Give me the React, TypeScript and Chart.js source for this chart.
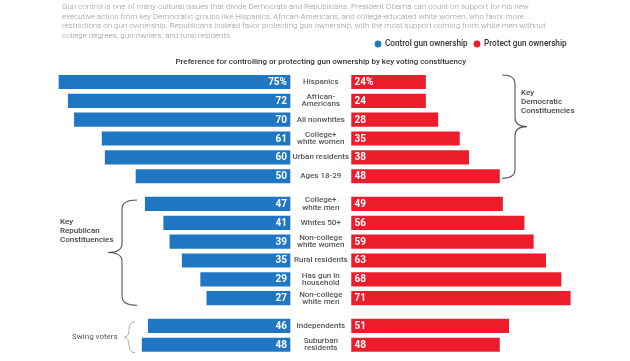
import React, { useEffect, useRef } from "react";
import { Chart, registerables } from "chart.js";
Chart.register(...registerables);

const categories: string[][] = [
  ["Hispanics"], ["African-", "Americans"], ["All nonwhites"], ["College+", "white women"],
  ["Urban residents"], ["Ages 18-29"],
  ["College+", "white men"], ["Whites 50+"], ["Non-college", "white women"], ["Rural residents"],
  ["Has gun in", "household"], ["Non-college", "white men"],
  ["Independents"], ["Suburban", "residents"],
];
const groups = [0, 0, 0, 0, 0, 0, 1, 1, 1, 1, 1, 1, 2, 2];
const controlValues = [75, 72, 70, 61, 60, 50, 47, 41, 39, 35, 29, 27, 46, 48];
const protectValues = [24, 24, 28, 35, 38, 48, 49, 56, 59, 63, 68, 71, 51, 48];
const groupLabels: string[][] = [
  ["Key", "Democratic", "Constituencies"],
  ["Key", "Republican", "Constituencies"],
  ["Swing voters"],
];
const seriesNames = ["Control gun ownership", "Protect gun ownership"];
const introLines = [
  "Gun control is one of many cultural issues that divide Democrats and Republicans. President Obama can count on support for his new",
  "executive action from key Democratic groups like Hispanics, African-Americans, and college-educated white women, who favor more",
  "restrictions on gun ownership. Republicans instead favor protecting gun ownership, with the most support coming from white men without",
  "college degrees, gun-owners, and rural residents.",
];
const chartTitle = "Preference for controlling or protecting gun ownership by key voting constituency";

const BLUE = "#1f77c3";
const RED = "#ec1c2a";
const CENTER_GAP = 20;
const GROUP_GAP = 0.47;
const FONT = "Roboto, 'Noto Sans', sans-serif";

export default function App() {
  const ref = useRef<HTMLCanvasElement | null>(null);
  useEffect(() => {
    const canvas = ref.current!;
    const pos = categories.map((_, i) => i + groups[i] * GROUP_GAP);

    const decor = {
      id: "decor",
      afterDatasetsDraw(chart: any) {
        const ctx: CanvasRenderingContext2D = chart.ctx;
        const xs = chart.scales.x;
        const ys = chart.scales.y;
        ctx.save();
        // intro text: size chosen so the widest line spans the intro block width
        ctx.textAlign = "left";
        ctx.textBaseline = "middle";
        ctx.font = `300 10px ${FONT}`;
        const widest = Math.max(...introLines.map((l) => ctx.measureText(l).width));
        const introSize = Math.min(9.5, (10 * 484) / widest);
        ctx.font = `300 ${introSize}px ${FONT}`;
        ctx.fillStyle = "#959595";
        introLines.forEach((l, i) => ctx.fillText(l, 62, 6.8 + i * 9.75));
        // legend
        const legendX = [378, 477];
        [BLUE, RED].forEach((c, i) => {
          ctx.fillStyle = c;
          ctx.beginPath();
          ctx.arc(legendX[i], 44, 3.4, 0, Math.PI * 2);
          ctx.fill();
          ctx.fillStyle = "#333";
          ctx.font = `500 8.2px ${FONT}`;
          ctx.textAlign = "left";
          ctx.fillText(seriesNames[i], legendX[i] + 7, 44);
        });

        const x0 = xs.getPixelForValue(0);
        const xg = xs.getPixelForValue(CENTER_GAP);
        const xc = (x0 + xg) / 2;
        // title
        ctx.fillStyle = "#333";
        ctx.font = `500 8px ${FONT}`;
        ctx.textAlign = "center";
        ctx.fillText(chartTitle, xc, 61.5);

        categories.forEach((lines, i) => {
          const y = ys.getPixelForValue(pos[i]);
          ctx.font = `bold 10px ${FONT}`;
          ctx.fillStyle = "#fff";
          ctx.textAlign = "right";
          ctx.fillText(String(controlValues[i]) + (i === 0 ? "%" : ""), x0 - 3, y + 0.5);
          ctx.textAlign = "left";
          ctx.fillText(String(protectValues[i]) + (i === 0 ? "%" : ""), xg + 3, y + 0.5);
          ctx.font = `500 8px ${FONT}`;
          ctx.fillStyle = "#555";
          ctx.textAlign = "center";
          const lh = 7.2;
          lines.forEach((t, k) => {
            ctx.fillText(t, xc, y + (k - (lines.length - 1) / 2) * lh);
          });
        });

        // brackets
        const brace = (top: number, bottom: number, xe: number, xsp: number, xt: number, color: string, lw: number) => {
          const mid = (top + bottom) / 2;
          const r = Math.min(9, (bottom - top) / 4);
          ctx.strokeStyle = color;
          ctx.lineWidth = lw;
          ctx.beginPath();
          ctx.moveTo(xe, top);
          ctx.quadraticCurveTo(xsp, top, xsp, top + r);
          ctx.lineTo(xsp, mid - r);
          ctx.quadraticCurveTo(xsp, mid, xt, mid);
          ctx.quadraticCurveTo(xsp, mid, xsp, mid + r);
          ctx.lineTo(xsp, bottom - r);
          ctx.quadraticCurveTo(xsp, bottom, xe, bottom);
          ctx.stroke();
        };
        const firstY = (g: number) => ys.getPixelForValue(pos[groups.indexOf(g)]);
        const lastY = (g: number) => ys.getPixelForValue(pos[groups.lastIndexOf(g)]);
        brace(firstY(0) - 7, lastY(0) + 2, 502, 515, 527, "#555", 1.1);
        brace(firstY(1) - 4, lastY(1) + 7, 137, 122, 108, "#555", 1.1);
        brace(firstY(2) - 4, lastY(2) + 8, 135, 129, 124, "#aaa", 1);

        // group labels
        ctx.textAlign = "left";
        ctx.fillStyle = "#444";
        ctx.font = `500 8px ${FONT}`;
        groupLabels[0].forEach((t, k) => ctx.fillText(t, 521, 92.7 + k * 9));
        groupLabels[1].forEach((t, k) => ctx.fillText(t, 60, 222 + k * 9));
        ctx.font = `400 8px ${FONT}`;
        ctx.fillStyle = "#555";
        groupLabels[2].forEach((t, k) => ctx.fillText(t, 72, 337 + k * 9));
        ctx.restore();
      },
    };

    const chart = new Chart(canvas, {
      type: "bar",
      data: {
        datasets: [
          {
            label: seriesNames[0],
            data: controlValues.map((v, i) => ({ x: [-v, 0], y: pos[i] })) as any,
            backgroundColor: BLUE,
            borderWidth: 0,
            barThickness: 13.5,
            grouped: false,
          } as any,
          {
            label: seriesNames[1],
            data: protectValues.map((v, i) => ({ x: [CENTER_GAP, CENTER_GAP + v], y: pos[i] })) as any,
            backgroundColor: RED,
            borderWidth: 0,
            barThickness: 13.5,
            grouped: false,
          } as any,
        ],
      },
      options: {
        indexAxis: "y",
        responsive: false,
        animation: false,
        layout: { padding: { left: 43.6, right: 32, top: 63.15, bottom: 5.7 } },
        scales: {
          x: { type: "linear", min: -80, max: 100, display: false },
          y: { type: "linear", min: -1, max: 14.5, reverse: true, display: false, offset: false },
        },
        plugins: { legend: { display: false }, tooltip: { enabled: false } },
      },
      plugins: [decor],
    });
    return () => chart.destroy();
  }, []);

  return (
    <div style={{ position: "absolute", left: 0, top: 0, width: 630, height: 361, background: "#fff" }}>
      <canvas ref={ref} width={630} height={361} style={{ display: "block" }} />
    </div>
  );
}
